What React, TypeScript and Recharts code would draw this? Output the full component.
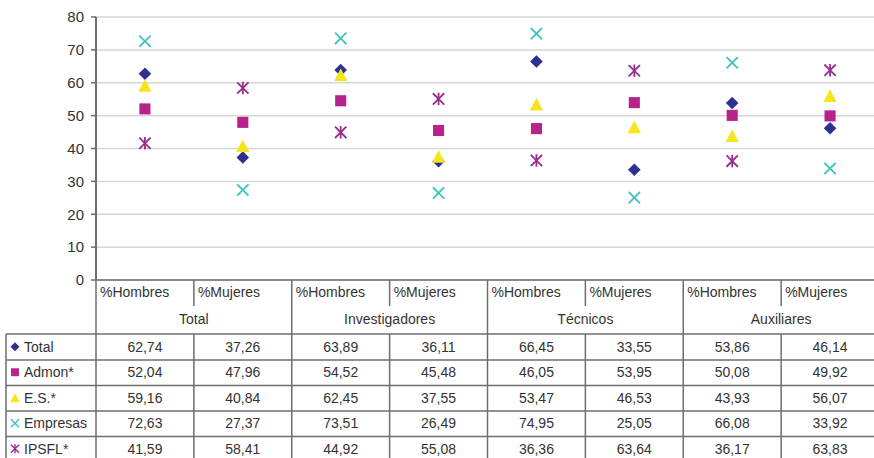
import { ComposedChart, Line, XAxis, YAxis, CartesianGrid } from 'recharts';

const categories = ['%Hombres', '%Mujeres', '%Hombres', '%Mujeres', '%Hombres', '%Mujeres', '%Hombres', '%Mujeres'];
const groups = ['Total', 'Investigadores', 'Técnicos', 'Auxiliares'];
const yTicks = [0, 10, 20, 30, 40, 50, 60, 70, 80];

const total = [62.74, 37.26, 63.89, 36.11, 66.45, 33.55, 53.86, 46.14];
const admon = [52.04, 47.96, 54.52, 45.48, 46.05, 53.95, 50.08, 49.92];
const es = [59.16, 40.84, 62.45, 37.55, 53.47, 46.53, 43.93, 56.07];
const empresas = [72.63, 27.37, 73.51, 26.49, 74.95, 25.05, 66.08, 33.92];
const ipsfl = [41.59, 58.41, 44.92, 55.08, 36.36, 63.64, 36.17, 63.83];

const series = [
  { key: 'total', name: 'Total', values: total, color: '#2e3192', shape: 'diamond' },
  { key: 'admon', name: 'Admon*', values: admon, color: '#b8228c', shape: 'square' },
  { key: 'es', name: 'E.S.*', values: es, color: '#f7e41d', shape: 'triangle' },
  { key: 'empresas', name: 'Empresas', values: empresas, color: '#3cc3c3', shape: 'cross' },
  { key: 'ipsfl', name: 'IPSFL*', values: ipsfl, color: '#9a2c8d', shape: 'star' },
];

const data = categories.map((c, i) => {
  const row: Record<string, any> = { cat: `${c}-${i}` };
  series.forEach((s) => (row[s.key] = s.values[i]));
  return row;
});

// layout
const W = 890;
const H = 458;
const PLOT_LEFT = 96;
const PLOT_RIGHT = 879;
const PLOT_TOP = 17;
const PLOT_BOTTOM = 280;
const BAND = (PLOT_RIGHT - PLOT_LEFT) / categories.length;
const TABLE_LEFT = 6;
const ROW_LINES = [334, 360, 385.5, 411, 436.5];
const ROW_H = 25.5;
const LINE = '#6e6e6e';
const TEXT = '#333333';
const FONT = '"Liberation Sans", Arial, sans-serif';

const fmt = (v: number) => v.toFixed(2).replace('.', ',');

function Marker({ shape, cx, cy, r, color }: { shape: string; cx: number; cy: number; r: number; color: string }) {
  if (shape === 'diamond') {
    return <polygon points={`${cx},${cy - r} ${cx + r},${cy} ${cx},${cy + r} ${cx - r},${cy}`} fill={color} />;
  }
  if (shape === 'square') {
    const s = r * 0.88;
    return <rect x={cx - s} y={cy - s} width={s * 2} height={s * 2} fill={color} />;
  }
  if (shape === 'triangle') {
    return <polygon points={`${cx},${cy - r} ${cx + r * 1.05},${cy + r} ${cx - r * 1.05},${cy + r}`} fill={color} />;
  }
  const d = r * 0.9;
  const sw = r > 5 ? 1.8 : 1.4;
  if (shape === 'cross') {
    return (
      <g stroke={color} strokeWidth={sw}>
        <line x1={cx - d} y1={cy - d} x2={cx + d} y2={cy + d} />
        <line x1={cx - d} y1={cy + d} x2={cx + d} y2={cy - d} />
      </g>
    );
  }
  return (
    <g stroke={color} strokeWidth={sw}>
      <line x1={cx - d} y1={cy - d} x2={cx + d} y2={cy + d} />
      <line x1={cx - d} y1={cy + d} x2={cx + d} y2={cy - d} />
      <line x1={cx} y1={cy - d * 1.1} x2={cx} y2={cy + d * 1.1} />
    </g>
  );
}

function TableTick(props: any) {
  const { x, index } = props;
  const left = x - BAND / 2;
  const right = x + BAND / 2;
  const endOfGroup = index % 2 === 1;
  return (
    <g fontFamily={FONT} fontSize={14} fill={TEXT}>
      {index === 0 && (
        <g>
          <line x1={left} y1={PLOT_BOTTOM} x2={left} y2={H} stroke={LINE} strokeWidth={1.5} />
          <line x1={TABLE_LEFT} y1={ROW_LINES[0]} x2={TABLE_LEFT} y2={H} stroke={LINE} strokeWidth={1.5} />
          {ROW_LINES.map((y) => (
            <line key={y} x1={TABLE_LEFT} y1={y} x2={PLOT_RIGHT} y2={y} stroke={LINE} strokeWidth={1.5} />
          ))}
          {series.map((s, j) => {
            const cy = ROW_LINES[0] + ROW_H * j + ROW_H / 2;
            return (
              <g key={s.key}>
                <Marker shape={s.shape} cx={15} cy={cy} r={4.5} color={s.color} />
                <text x={24} y={cy + 5} textAnchor="start" fill={TEXT}>
                  {s.name}
                </text>
              </g>
            );
          })}
        </g>
      )}
      <text x={left + 4} y={297} textAnchor="start" fill={TEXT}>
        {categories[index]}
      </text>
      {endOfGroup ? (
        <g>
          <line x1={right} y1={PLOT_BOTTOM} x2={right} y2={H} stroke={LINE} strokeWidth={1.5} />
          <text x={left} y={324} textAnchor="middle" fill={TEXT}>
            {groups[(index - 1) / 2]}
          </text>
        </g>
      ) : (
        <g>
          <line x1={right} y1={PLOT_BOTTOM} x2={right} y2={306} stroke={LINE} strokeWidth={1.5} />
          <line x1={right} y1={ROW_LINES[0]} x2={right} y2={H} stroke={LINE} strokeWidth={1.5} />
        </g>
      )}
      {series.map((s, j) => (
        <text key={s.key} x={x} y={ROW_LINES[0] + ROW_H * j + ROW_H / 2 + 5} textAnchor="middle" fill={TEXT}>
          {fmt(s.values[index])}
        </text>
      ))}
    </g>
  );
}

export default function App() {
  return (
    <div
      style={{
        position: 'absolute',
        left: 0,
        top: 0,
        width: 874,
        height: 458,
        overflow: 'hidden',
        background: '#fff',
        fontFamily: FONT,
      }}
    >
      <ComposedChart
        width={W}
        height={H}
        data={data}
        margin={{ top: PLOT_TOP, right: W - PLOT_RIGHT, left: PLOT_LEFT - 50, bottom: 0 }}
      >
        <CartesianGrid vertical={false} stroke="#d6d6d6" strokeWidth={1.5} />
        <XAxis
          dataKey="cat"
          interval={0}
          height={H - PLOT_BOTTOM}
          padding={{ left: BAND / 2, right: BAND / 2 }}
          tickLine={false}
          axisLine={{ stroke: LINE, strokeWidth: 1.5 }}
          tick={<TableTick />}
        />
        <YAxis
          width={50}
          domain={[0, 80]}
          ticks={yTicks}
          interval={0}
          tickSize={5}
          tickMargin={7}
          tickLine={{ stroke: LINE, strokeWidth: 1.5 }}
          axisLine={{ stroke: LINE, strokeWidth: 2 }}
          tick={{ fill: TEXT, fontSize: 15, fontFamily: FONT }}
        />
        {series.map((s) => (
          <Line
            key={s.key}
            dataKey={s.key}
            name={s.name}
            stroke="none"
            isAnimationActive={false}
            activeDot={false}
            dot={(p: any) => (
              <Marker key={`${s.key}-${p.index}`} shape={s.shape} cx={p.cx} cy={p.cy} r={6.3} color={s.color} />
            )}
          />
        ))}
      </ComposedChart>
    </div>
  );
}
